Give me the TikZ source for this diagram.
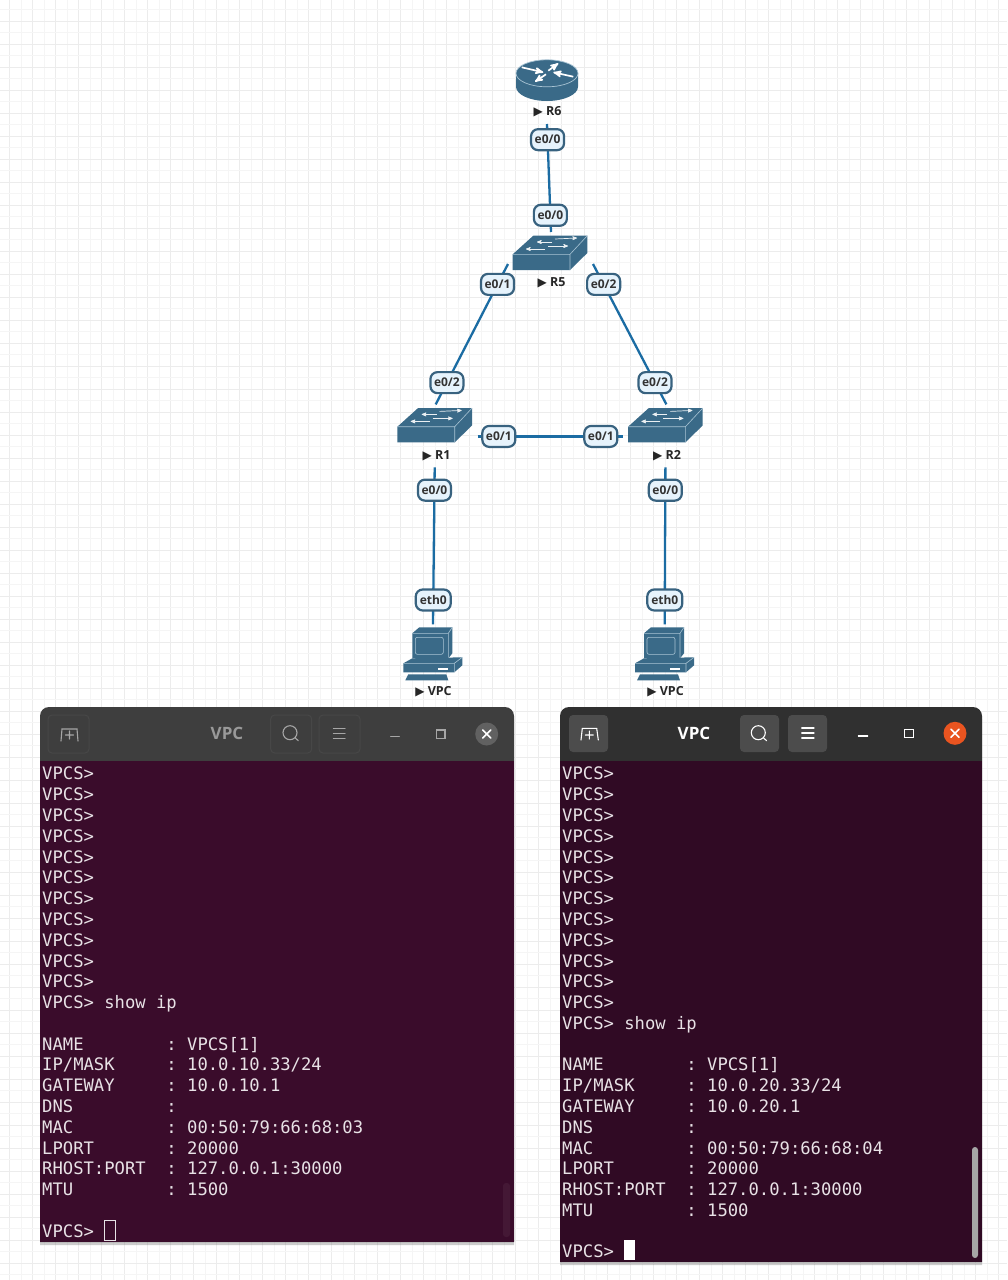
\documentclass[tikz,border=0pt]{standalone}
\usepackage{fontspec}
\setmainfont{Open Sans}
\newfontfamily\termfont{DejaVu Sans Mono}
\newfontfamily\markfont{DejaVu Sans}
\usetikzlibrary{arrows, shadows}

\definecolor{gridminor}{HTML}{F5F5F5}
\definecolor{gridmajor}{HTML}{ECECEC}
\definecolor{iconblue}{HTML}{3A6A88}
\definecolor{iconedge}{HTML}{A9C4D4}
\definecolor{linkblue}{HTML}{1B6CA3}
\definecolor{portfill}{HTML}{E6F3FC}
\definecolor{portedge}{HTML}{38627F}
\definecolor{termbody}{HTML}{3A0C2B}
\definecolor{termbodyb}{HTML}{300A24}
\definecolor{termtext}{HTML}{E8E2E6}
\definecolor{barleft}{HTML}{3E3E3E}
\definecolor{barright}{HTML}{303030}
\definecolor{closeorange}{HTML}{E95420}

\tikzset{
  devbox/.style={minimum width=60pt,minimum height=40pt,inner sep=0pt},
  devlabel/.style={inner sep=0pt,text=black!85,font=\fontsize{12.5}{14}\selectfont\bfseries},
  link/.style={draw=linkblue,line width=2.3pt},
  port/.style={draw=portedge,line width=2.2pt,fill=portfill,rounded corners=7pt,inner sep=0pt,
    minimum height=21pt,minimum width=33pt,text=black!80,font=\fontsize{12}{14}\selectfont\bfseries},
  termtxt/.style={anchor=north west,inner sep=0pt,align=left,text=termtext,
    font=\termfont\fontsize{17.2}{20.78}\selectfont},
  termtitle/.style={inner sep=0pt,font=\fontsize{17}{20}\selectfont\bfseries},
  winshadow/.style={drop shadow={opacity=.4,shadow xshift=0pt,shadow yshift=-3pt}},
  btn/.style={rounded corners=4pt,line width=1pt},
  glyph/.style={line width=1.1pt,line cap=round},
  routericon/.pic={
    \fill[iconblue] (-31,-6.7) -- (-31,6.7) arc[start angle=180,end angle=0,x radius=31,y radius=14.3]
      -- (31,-6.7) -- cycle;
    \draw[iconedge,line width=.7pt,fill=iconblue] (0,-6.7) ellipse[x radius=31,y radius=13.5];
    \draw[->,>=stealth',white,line width=1.7pt] (1.3,-9.3) -- (11.3,-16.7);
    \draw[->,>=stealth',white,line width=1.7pt] (-25.3,-12.7) -- (-3.7,-7.7);
    \draw[->,>=stealth',white,line width=1.7pt] (26.3,-3.3) -- (6.3,-7.7);
    \draw[->,>=stealth',white,line width=1.7pt] (-1,-5.7) -- (-12,1.7);
    \coordinate (-s) at (0,44);
  },
  switchicon/.pic={
    \fill[iconblue] (-37.3,1.3) -- (-16.7,-17.3) -- (37.3,-17.3) -- (37.3,0) -- (20,17) -- (-37.3,17) -- cycle;
    \draw[iconedge,line width=.6pt] (-37.3,1.3) -- (20,1.3) -- (37.3,-17.3) (20,1.3) -- (20,17);
    \draw[->,>=stealth',white!90!iconblue,line width=.7pt] (2,-11) -- (-13,-11);
    \draw[->,>=stealth',white!90!iconblue,line width=.7pt] (5,-14) -- (27,-15);
    \draw[->,>=stealth',white!90!iconblue,line width=.7pt] (-5,-4) -- (-24,-4);
    \draw[->,>=stealth',white!90!iconblue,line width=.7pt] (-2,-7) -- (18,-7);
    \coordinate (-n) at (1,-21);
    \coordinate (-w) at (-42,11);
    \coordinate (-e) at (43,11);
    \coordinate (-s) at (0,42);
  },
  pcicon/.pic={
    \fill[iconblue] (-20,-20) -- (-13,-26) -- (20,-26) -- (20,0) -- (16,5) -- (-20,5) -- cycle;
    \draw[iconedge,line width=.6pt] (-20,-20) -- (16,-20) -- (20,-26) (16,-20) -- (16,5);
    \fill[iconblue,draw=iconedge,line width=.6pt,rounded corners=2pt] (-17,-16) rectangle (11,1);
    \fill[iconblue] (-29,10) -- (-20,5) -- (30,4) -- (30,12) -- (22,19) -- (-29,19) -- cycle;
    \draw[iconedge,line width=.6pt] (-29,10) -- (22,10) -- (30,4) (22,10) -- (22,19);
    \fill[white] (6,15) rectangle (16,17);
    \fill[iconblue] (-24,21) -- (14,21) -- (16,27) -- (-27,27) -- cycle;
    \coordinate (-n) at (.7,-29);
  }
}

\begin{document}
\begin{tikzpicture}[x=1pt,y=-1pt]
  \useasboundingbox (0,0) rectangle (1007,1280);
  \fill[white] (0,0) rectangle (1007,1280);

  % background grid
  \foreach \k in {0,...,43} {
    \draw[gridminor,line width=1pt] (21+23*\k,0) -- (21+23*\k,1280);
    \draw[gridmajor,line width=1pt] (9.5+23*\k,0) -- (9.5+23*\k,1280);
  }
  \foreach \k in {0,...,55} {
    \draw[gridminor,line width=1pt] (0,9.5+23*\k) -- (1007,9.5+23*\k);
    \draw[gridmajor,line width=1pt] (0,21+23*\k) -- (1007,21+23*\k);
  }

  % devices
  \node[devbox] (R6) at (547,80) {};
  \node[devbox] (R5) at (550,253) {};
  \node[devbox] (R1) at (434.7,425.4) {};
  \node[devbox] (R2) at (665.4,425.4) {};
  \node[devbox] (VPC1) at (432.3,653.3) {};
  \node[devbox] (VPC2) at (664,653.3) {};
  \pic (R6) at (R6) {routericon};
  \pic (R5) at (R5) {switchicon};
  \pic (R1) at (R1) {switchicon};
  \pic (R2) at (R2) {switchicon};
  \pic (VPC1) at (VPC1) {pcicon};
  \pic (VPC2) at (VPC2) {pcicon};

  \node[devlabel] (R6lab) at (547.5,111.5) {{\markfont\large ▶} R6};
  \node[devlabel] (R5lab) at (551.5,282.5) {{\markfont\large ▶} R5};
  \node[devlabel] (R1lab) at (436.5,455.5) {{\markfont\large ▶} R1};
  \node[devlabel] (R2lab) at (667,455.5) {{\markfont\large ▶} R2};
  \node[devlabel] (VPC1lab) at (433.5,691.5) {{\markfont\large ▶} VPC};
  \node[devlabel] (VPC2lab) at (665.5,691.5) {{\markfont\large ▶} VPC};

  % links
  \path[link]
    (R6-s) edge node[port,pos=.145] {e0/0} node[port,pos=.845] {e0/0} (R5-n)
    (R5-w) edge node[port,pos=.145] {e0/1} node[port,pos=.845] {e0/2} (R1-n)
    (R5-e) edge node[port,pos=.145] {e0/2} node[port,pos=.845] {e0/2} (R2-n)
    (R1-e) edge node[port,pos=.145] {e0/1} node[port,pos=.845] {e0/1} (R2-w)
    (R1-s) edge node[port,pos=.145] {e0/0} node[port,pos=.845,minimum width=35pt] {eth0} (VPC1-n)
    (R2-s) edge node[port,pos=.145] {e0/0} node[port,pos=.845,minimum width=35pt] {eth0} (VPC2-n)
    ;

  % left terminal
  \fill[barleft,winshadow,rounded corners=9pt]
    (40,761) -- (40,707) -- (514,707) -- (514,761) [sharp corners] -- (514,1242) -- (40,1242) -- cycle;
  \fill[termbody] (40,761) rectangle (514,1242);
  \draw[btn,draw=black!72] (48,715) rectangle (89,753);
  \draw[btn,draw=black!72] (270.7,715) rectangle (311.7,753);
  \draw[btn,draw=black!72] (319,715) rectangle (360,753);
  \draw[glyph,black!35] (61,741) -- (62,729) -- (77,729) -- (78,741) (65.5,735) -- (73.5,735) (69.5,731) -- (69.5,739);
  \draw[glyph,black!35] (290,732.7) circle[radius=7] (295,737.7) -- (298.3,740.7);
  \draw[glyph,black!35] (333.3,728.3) -- (345,728.3) (333.3,733.3) -- (345,733.3) (333.3,738.3) -- (345,738.3);
  \draw[glyph,black!35] (390.7,736.7) -- (399.3,736.7);
  \draw[glyph,black!35] (436.7,730) rectangle (445,738.3);
  \fill[black!62] (486.7,734) circle[radius=11.5];
  \draw[glyph,white,line width=1.6pt] (482.7,730) -- (490.7,738) (490.7,730) -- (482.7,738);
  \node[termtitle,text=black!40] (title1) at (227,733) {VPC};
  \node[termtxt] (term1) at (42,767) {VPCS>\\VPCS>\\VPCS>\\VPCS>\\VPCS>\\VPCS>\\VPCS>\\VPCS>\\VPCS>\\VPCS>\\VPCS>\\VPCS>~show~ip\\~\\
    NAME~~~~~~~~:~VPCS[1]\\IP/MASK~~~~~:~10.0.10.33/24\\GATEWAY~~~~~:~10.0.10.1\\DNS~~~~~~~~~:\\
    MAC~~~~~~~~~:~00:50:79:66:68:03\\LPORT~~~~~~~:~20000\\RHOST:PORT~~:~127.0.0.1:30000\\MTU~~~~~~~~~:~1500\\~\\VPCS>};
  \draw[termtext,line width=1pt] (104.5,1220) rectangle (115.5,1240);
  \fill[white,opacity=.05,rounded corners=3pt] (503,1183) rectangle (510,1237);

  % right terminal
  \fill[barright,winshadow,rounded corners=9pt]
    (560,761) -- (560,707) -- (982,707) -- (982,761) [sharp corners] -- (982,1262) -- (560,1262) -- cycle;
  \fill[termbodyb] (560,761) rectangle (982,1262);
  \fill[btn,black!70] (569,715) rectangle (608,752);
  \fill[btn,black!70] (740,715) rectangle (779,752);
  \fill[btn,black!70] (788,715) rectangle (827,752);
  \draw[glyph,white] (581,740) -- (582.3,728.3) -- (596.7,728.3) -- (598.3,740) (585.3,735) -- (593.3,735) (589.3,731) -- (589.3,739);
  \draw[glyph,white] (758.3,732.7) circle[radius=7] (763.3,737.7) -- (766.6,740.7);
  \draw[glyph,white] (801.7,728) -- (814,728) (801.7,733) -- (814,733) (801.7,738) -- (814,738);
  \draw[glyph,white] (858.3,736) -- (867.7,736);
  \draw[glyph,white] (904.3,729.3) rectangle (913.3,737.7);
  \fill[closeorange] (955,733.3) circle[radius=11.5];
  \draw[glyph,white,line width=1.6pt] (951,729.3) -- (959,737.3) (959,729.3) -- (951,737.3);
  \node[termtitle,text=white] (title2) at (694,733) {VPC};
  \node[termtxt] (term2) at (562,767) {VPCS>\\VPCS>\\VPCS>\\VPCS>\\VPCS>\\VPCS>\\VPCS>\\VPCS>\\VPCS>\\VPCS>\\VPCS>\\VPCS>\\VPCS>~show~ip\\~\\
    NAME~~~~~~~~:~VPCS[1]\\IP/MASK~~~~~:~10.0.20.33/24\\GATEWAY~~~~~:~10.0.20.1\\DNS~~~~~~~~~:\\
    MAC~~~~~~~~~:~00:50:79:66:68:04\\LPORT~~~~~~~:~20000\\RHOST:PORT~~:~127.0.0.1:30000\\MTU~~~~~~~~~:~1500\\~\\VPCS>};
  \fill[white] (624,1240) rectangle (635,1260);
  \fill[black!35,rounded corners=3pt] (972,1147) rectangle (978,1258);
\end{tikzpicture}
\end{document}
